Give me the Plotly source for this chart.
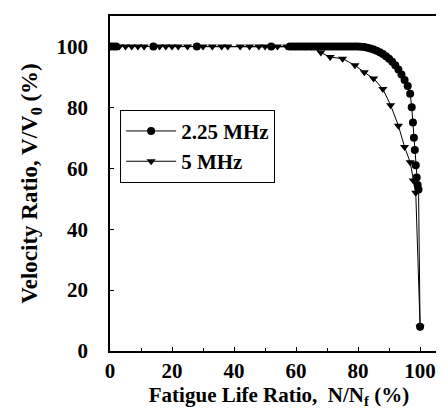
import plotly.graph_objects as go

# 2.25 MHz series (circles)
c_x = [0, 1, 2, 14, 28, 52, 58, 59, 60, 61, 62, 63, 64, 65, 66, 67, 68, 69, 70, 71, 72, 73, 74, 75,
       76, 77, 78, 79, 80, 81, 82, 83, 84, 85, 86, 87, 88, 89, 90, 91, 92, 93, 94, 95, 96,
       96.8, 97.3, 97.7, 98.0, 98.3, 98.6, 98.9, 99.2, 99.5, 100]
c_y = [100, 100, 100, 100, 100, 100, 100, 100, 100, 100, 100, 100, 100, 100, 100, 100, 100, 100,
       100, 100, 100, 100, 100, 100, 100, 100, 100, 100, 100, 99.9, 99.8, 99.6, 99.3, 99.0, 98.6,
       98.1, 97.5, 96.8, 96.0, 95.0, 93.8, 92.4, 90.8, 89.0, 87.0,
       84.5, 80.0, 75.0, 70.0, 66.0, 61.0, 57.0, 54.5, 53.0, 8]

# 5 MHz series (triangles)
t_x = [0, 3, 5, 7, 9, 11, 16, 18, 20, 22, 25, 30, 33, 36, 38, 42, 45, 48, 50, 54, 57, 60, 63, 65,
       68, 71, 75, 79, 82, 85, 88, 90.5, 93, 95, 96.8, 97.8, 98.6, 100]
t_y = [100, 100, 100, 100, 100, 100, 100, 100, 100, 100, 100, 100, 100, 100, 100, 100, 100, 100,
       100, 100, 100, 100, 100, 100,
       98.0, 96.5, 96.0, 93.8, 91.5, 89.5, 86.0, 80.7, 74.0, 67.0, 62.0, 56.0, 52.0, 8]

x_ticks = [0, 20, 40, 60, 80, 100]
y_ticks = [0, 20, 40, 60, 80, 100]

FONT = "Liberation Serif"

fig = go.Figure()
fig.add_trace(go.Scatter(x=c_x, y=c_y, mode="lines+markers", name="<b>2.25 MHz</b>",
                         line=dict(color="black", width=1),
                         marker=dict(symbol="circle", size=8, color="black")))
fig.add_trace(go.Scatter(x=t_x, y=t_y, mode="lines+markers", name="<b>5 MHz</b>",
                         line=dict(color="black", width=1),
                         marker=dict(symbol="triangle-down", size=8, color="black")))

axis_common = dict(showline=True, linecolor="black", linewidth=1.5, mirror=True,
                   showgrid=False, zeroline=False, ticks="inside", ticklen=4,
                   tickcolor="black", automargin=False,
                   tickfont=dict(family=FONT, size=21, color="black", weight="bold"))

fig.update_xaxes(range=[0, 109], tickvals=x_ticks,
                 title=dict(text="<b>Fatigue Life Ratio,  N/N<sub>f</sub> (%)</b>",
                            font=dict(family=FONT, size=21, color="black"), standoff=0),
                 minor=dict(ticks="inside", ticklen=3, dtick=10, tickcolor="black"),
                 ticklabelstandoff=0,
                 **axis_common)
fig.update_yaxes(range=[0, 110], tickvals=y_ticks,
                 title=dict(text="<b>Velocity Ratio, V/V<sub>0</sub> (%)</b>",
                            font=dict(family=FONT, size=23, color="black"), standoff=12),
                 ticklabelstandoff=16,
                 **axis_common)

fig.update_layout(
    width=444, height=413,
    margin=dict(l=102, r=4, t=8, b=70),
    paper_bgcolor="white", plot_bgcolor="white",
    font=dict(family=FONT, color="black"),
    showlegend=True,
    legend=dict(x=0.03, y=0.72, xanchor="left", yanchor="top",
                bgcolor="white", bordercolor="black", borderwidth=1,
                font=dict(family=FONT, size=21, color="black"),
                itemwidth=50, tracegroupgap=0),
)

fig.write_html("out.html")
